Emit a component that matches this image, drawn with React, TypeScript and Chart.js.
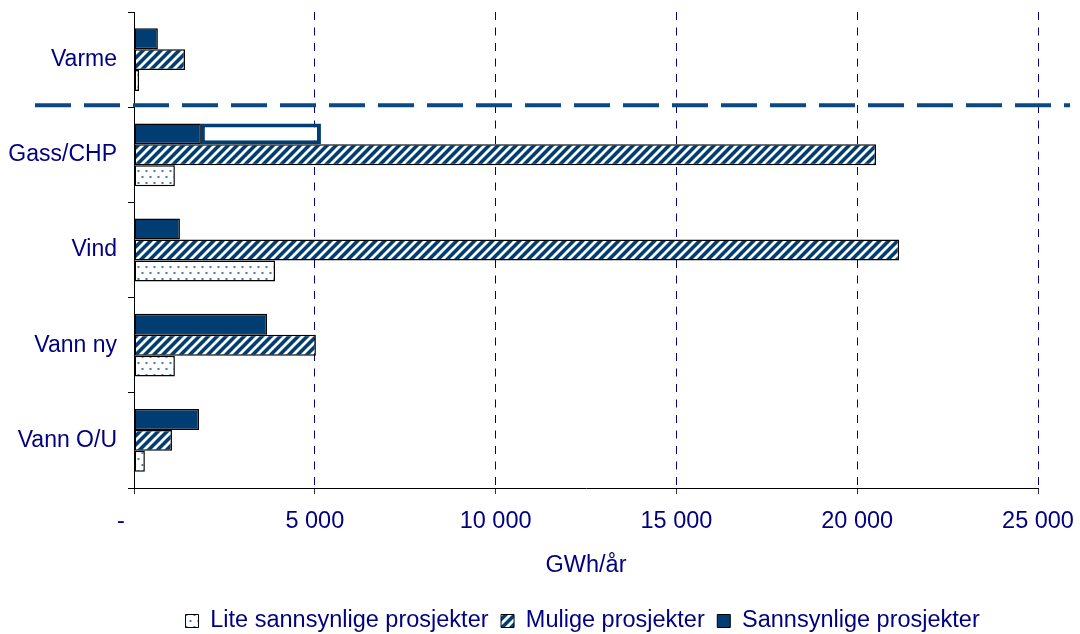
import React, { useEffect, useRef } from 'react';
import { Chart, registerables } from 'chart.js';

Chart.register(...registerables);

// ---- Data ----
const categories = ['Varme', 'Gass/CHP', 'Vind', 'Vann ny', 'Vann O/U'];
const sannsynlige = [660, 1850, 1270, 3680, 1800];
const sannsynligeUsikker = [null, 3320, null, null, null]; // white outlined extension on Gass/CHP
const mulige = [1410, 20520, 21160, 5030, 1050];
const liteSannsynlige = [140, 1130, 3900, 1130, 300];
const seriesNames = ['Sannsynlige prosjekter', 'Mulige prosjekter', 'Lite sannsynlige prosjekter'];
const xMin = 0;
const xMax = 25000;
const xStep = 5000;
const xTitle = 'GWh/år';

const NAVY = '#003D73';
const TEXT = '#000080';
const FONT = "'Liberation Sans', Arial, sans-serif";

function makeHatch(ctx: CanvasRenderingContext2D) {
  const s = 9;
  const c = document.createElement('canvas');
  c.width = s;
  c.height = s;
  const g = c.getContext('2d')!;
  g.fillStyle = NAVY;
  g.fillRect(0, 0, s, s);
  g.strokeStyle = '#ffffff';
  g.lineWidth = 2.8;
  g.beginPath();
  g.moveTo(-2, s + 2); g.lineTo(s + 2, -2);
  g.moveTo(-s / 2 - 2, s / 2 + 2); g.lineTo(s / 2 + 2, -s / 2 - 2);
  g.moveTo(s / 2 - 2, s * 1.5 + 2); g.lineTo(s * 1.5 + 2, s / 2 - 2);
  g.stroke();
  // repaint navy band between stripes is implicit; use 2 stripes? keep single diagonal
  return ctx.createPattern(c, 'repeat')!;
}

function makeDots(ctx: CanvasRenderingContext2D) {
  const c = document.createElement('canvas');
  c.width = 8;
  c.height = 12;
  const g = c.getContext('2d')!;
  g.fillStyle = '#ffffff';
  g.fillRect(0, 0, 8, 12);
  g.fillStyle = '#4A78A8';
  g.fillRect(1.5, 2, 2, 2);
  g.fillRect(5.5, 8, 2, 2);
  return ctx.createPattern(c, 'repeat')!;
}

function fmt(v: number) {
  if (v === 0) return '-    ';
  return String(v).replace(/\B(?=(\d{3})+(?!\d))/g, ' ');
}

const separatorPlugin = {
  id: 'separator',
  afterDraw(chart: any) {
    const { ctx, chartArea, scales } = chart;
    const y = scales.y;
    const yy = (y.getPixelForValue(0) + y.getPixelForValue(1)) / 2 - 2;
    ctx.save();
    ctx.strokeStyle = '#0B4A80';
    ctx.lineWidth = 4;
    ctx.setLineDash([36, 13]);
    ctx.beginPath();
    ctx.moveTo(chartArea.left - 99, yy);
    ctx.lineTo(chartArea.right + 32, yy);
    ctx.stroke();
    ctx.restore();
  },
};

export default function App() {
  const ref = useRef<HTMLCanvasElement>(null);

  useEffect(() => {
    const canvas = ref.current!;
    const ctx = canvas.getContext('2d')!;
    const hatch = makeHatch(ctx);
    const dots = makeDots(ctx);

    const chart = new Chart(canvas, {
      type: 'bar',
      data: {
        labels: categories,
        datasets: [
          {
            label: seriesNames[0],
            data: sannsynlige,
            backgroundColor: NAVY,
            borderColor: '#000000',
            borderWidth: 1.5,
            borderSkipped: false,
            stack: 'a',
          },
          {
            label: 'extra',
            data: sannsynligeUsikker as any,
            backgroundColor: '#ffffff',
            borderColor: NAVY,
            borderWidth: 4,
            borderSkipped: false,
            stack: 'a',
          },
          {
            label: seriesNames[1],
            data: mulige,
            backgroundColor: hatch,
            borderColor: '#000000',
            borderWidth: 1.5,
            borderSkipped: false,
            stack: 'b',
          },
          {
            label: seriesNames[2],
            data: liteSannsynlige,
            backgroundColor: dots,
            borderColor: '#000000',
            borderWidth: 1.5,
            borderSkipped: false,
            stack: 'c',
          },
        ],
      },
      options: {
        indexAxis: 'y',
        animation: false,
        responsive: false,
        datasets: { bar: { categoryPercentage: 0.66, barPercentage: 1 } },
        layout: { padding: { top: 12, right: 42, bottom: -8.75, left: 0 } },
        scales: {
          x: {
            stacked: true,
            min: xMin,
            max: xMax,
            ticks: {
              stepSize: xStep,
              color: TEXT,
              font: { family: FONT, size: 23.5 },
              padding: 13,
              callback: (v: any) => fmt(Number(v)),
            },
            grid: {
              color: (c: any) => (c.tick && c.tick.value === 0 ? 'rgba(0,0,0,0)' : '#000080'),
              lineWidth: 1,
              tickLength: 6,
              tickColor: '#333333',
            },
            border: { display: true, color: '#000000', width: 1, dash: [8, 7.5] },
            title: {
              display: true,
              text: xTitle,
              color: TEXT,
              font: { family: FONT, size: 23.5 },
              padding: { top: 4, bottom: 24 },
            },
            afterFit: (s: any) => {
              s.height = 115.25;
              s.paddingLeft = 0;
              s.paddingRight = 0;
            },
          },
          y: {
            ticks: {
              color: TEXT,
              font: { family: FONT, size: 23 },
              padding: 11,
            },
            grid: {
              offset: true,
              drawOnChartArea: false,
              tickLength: 6,
              tickColor: '#000000',
            },
            border: { display: true, color: '#000000', width: 1 },
            afterFit: (s: any) => {
              s.width = 134;
              s.paddingTop = 0;
              s.paddingBottom = 0;
            },
          },
        },
        plugins: {
          tooltip: { enabled: false },
          legend: {
            position: 'bottom',
            align: 'end',
            reverse: true,
            labels: {
              color: TEXT,
              font: { family: FONT, size: 23.5 },
              boxWidth: 13,
              boxHeight: 13,
              padding: 6,
              filter: (item: any) => item.datasetIndex !== 1,
              generateLabels: (ch: any) => {
                const items = (Chart as any).defaults.plugins.legend.labels.generateLabels(ch);
                return items.map((it: any) => ({
                  ...it,
                  text: it.text + (it.datasetIndex === 0 ? '        ' : ' '),
                  lineWidth: 1,
                  strokeStyle: '#000000',
                }));
              },
            },
          },
        },
      },
      plugins: [separatorPlugin],
    } as any);

    return () => chart.destroy();
  }, []);

  return (
    <div style={{ position: 'fixed', left: 0, top: 0, width: 1080, height: 634, background: '#ffffff' }}>
      <canvas ref={ref} width={1080} height={634} />
    </div>
  );
}
